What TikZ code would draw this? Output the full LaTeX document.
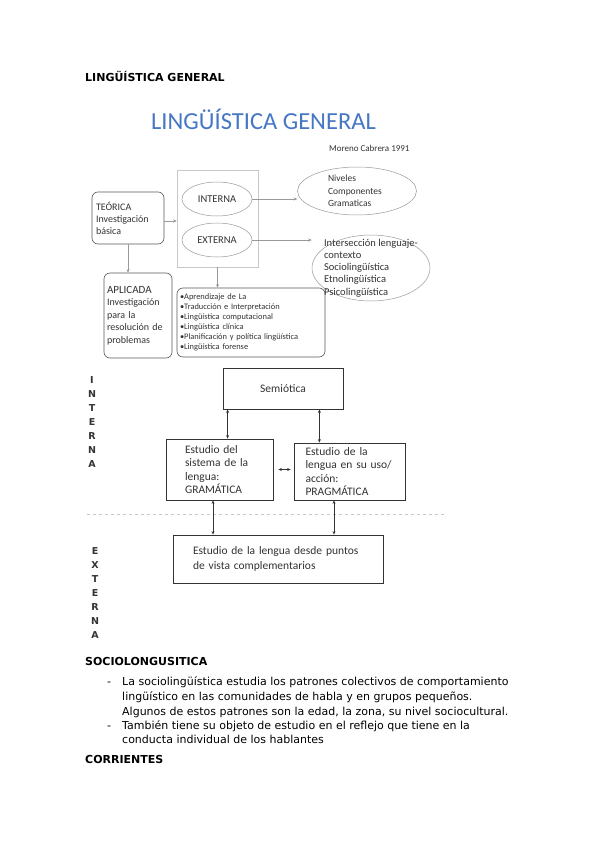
\documentclass[tikz,border=0pt]{standalone}
\usepackage{fontspec}
\setmainfont{DejaVu Sans}
\newfontfamily\carlito{Carlito}
\usepackage{xcolor}
\usetikzlibrary{positioning,arrows.meta,shapes.geometric}
\definecolor{blue500}{HTML}{4677C6}
\definecolor{gray800}{HTML}{333333}
\definecolor{gray600}{HTML}{595959}
\definecolor{gray400}{HTML}{999999}
\definecolor{gray200}{HTML}{C8C8C8}
\tikzset{
  every node/.style={inner sep=0pt, text=gray800},
  heading/.style={font=\fontsize{11}{13}\selectfont\bfseries, anchor=base west, text=black},
  bodyline/.style={font=\fontsize{11}{13}\selectfont, anchor=base west, text=black},
  imgtext/.style={font=\carlito\fontsize{10}{12}\selectfont, align=left},
  roundbox/.style={rectangle, rounded corners=6pt, draw=gray600, line width=0.6pt, imgtext},
  oval/.style={ellipse, draw=gray400, line width=0.5pt},
  frame/.style={rectangle, draw=gray200, line width=0.5pt},
  plainbox/.style={rectangle, draw=gray800, line width=0.8pt, align=left,
    font=\carlito\fontsize{11.5}{13.4}\selectfont},
  garrow/.style={-{Stealth[length=3.5pt,width=3pt]}, draw=gray400, line width=0.5pt},
  darrow/.style={{Stealth[length=3.5pt,width=3pt]}-{Stealth[length=3.5pt,width=3pt]},
    draw=gray800, line width=0.8pt},
  vletter/.style={font=\fontsize{9.5}{11}\selectfont\bfseries, anchor=base, text=gray800},
}

\begin{document}
\begin{tikzpicture}[x=1pt,y=-1pt]
  \fill[white] (0,0) rectangle (599,848);
  \useasboundingbox (0,0) rectangle (599,848);

  \node[heading] (head) at (85,82) {LINGÜÍSTICA GENERAL};
  \node[font=\carlito\fontsize{24.5}{28}\selectfont, text=blue500, anchor=base] (title) at (263.5,130) {LINGÜÍSTICA GENERAL};
  \node[font=\carlito\fontsize{9}{11}\selectfont, anchor=base west] (author) at (329,151) {Moreno Cabrera 1991};

  \node[roundbox, minimum width=72, minimum height=52, text width=64, yshift=-2pt] (teorica) at (128,216) {TEÓRICA\\Investigación\\básica};
  \node[frame, minimum width=81, minimum height=97] (cont) at (217.5,218.5) {};
  \node[oval, minimum width=70, minimum height=34, font=\carlito\fontsize{10.5}{12}\selectfont] (interna) at (217,199) {INTERNA};
  \node[oval, minimum width=70, minimum height=34, font=\carlito\fontsize{10.5}{12}\selectfont] (externa) at (217,240) {EXTERNA};
  \node[oval, minimum width=119, minimum height=48] (niveles) at (357,191) {};
  \node[imgtext, font=\carlito\fontsize{9.5}{12.5}\selectfont, xshift=-2pt] (nivtxt) at (niveles) {Niveles\\Componentes\\Gramaticas};
  \node[oval, minimum width=118, minimum height=66] (isec) at (371,268) {};
  \node[imgtext, font=\carlito\fontsize{10.5}{12.2}\selectfont] (isectxt) at (isec) {Intersección lenguaje-\\contexto\\Sociolingüística\\Etnolingüística\\Psicolingüística};
  \node[roundbox, minimum width=68, minimum height=85, text width=62, font=\carlito\fontsize{10}{12.5}\selectfont] (aplicada) at (138,315.5) {{\fontsize{11}{13}\selectfont APLICADA}\\Investigación\\para la\\resolución de\\problemas};
  \node[roundbox, minimum width=148, minimum height=69, text width=142, font=\carlito\fontsize{8.4}{10}\selectfont] (fields) at (251,322.5) {•Aprendizaje de La\\•Traducción e Interpretación\\•Lingüística computacional\\•Lingüística clínica\\•Planificación y política lingüística\\•Lingüística forense};

  \coordinate (tout) at ([yshift=-3pt]teorica.east);
  \draw[garrow] (tout) -- (tout -| cont.west);
  \draw[garrow] (teorica.south) -- (teorica.south |- aplicada.north);
  \draw[garrow] (cont.south) -- (cont.south |- fields.north);
  \draw[garrow] (interna.east) -- (interna.east -| niveles.west);
  \draw[garrow] (externa.east) -- (externa.east -| isec.west);

  \foreach \l [count=\i] in {I,N,T,E,R,N,A}
    \node[vletter] (int\i) at (92,369+14*\i) {\l};
  \foreach \l [count=\i] in {E,X,T,E,R,N,A}
    \node[vletter] (ext\i) at (95,540+14*\i) {\l};

  \node[plainbox, minimum width=120, minimum height=41, align=center] (semi) at (283,388.5) {Semiótica};
  \node[plainbox, minimum width=107, minimum height=61, text width=69] (gram) at (219.5,469.5) {Estudio del\\sistema de la\\lengua:\\GRAMÁTICA};
  \node[plainbox, minimum width=111, minimum height=57, text width=88] (prag) at (349.5,471.5) {Estudio de la\\lengua en su uso/\\acción:\\PRAGMÁTICA};
  \node[plainbox, minimum width=210, minimum height=48, text width=170, font=\carlito\fontsize{11.5}{14.5}\selectfont] (bottom) at (278,559) {Estudio de la lengua desde puntos\\de vista complementarios};

  \draw[dashed, gray200, line width=0.6pt] (87,514) -- (445,514);

  \coordinate (sl) at ([xshift=5pt]semi.south west);
  \draw[darrow] (sl) -- (sl |- gram.north);
  \coordinate (sr) at ([xshift=-24pt]semi.south east);
  \draw[darrow] (sr) -- (sr |- prag.north);
  \coordinate (gr) at ([xshift=5pt]gram.east);
  \coordinate (pl) at ([xshift=-3pt]prag.west);
  \draw[darrow, line width=0.6pt] (gr) -- (gr -| pl);
  \coordinate (gb) at ([xshift=-6.5pt]gram.south);
  \draw[darrow] (gb) -- (gb |- bottom.north);
  \coordinate (pb) at ([xshift=-15.5pt]prag.south);
  \draw[darrow] (pb) -- (pb |- bottom.north);

  \node[heading] (socio) at (85,665) {SOCIOLONGUSITICA};
  \node[bodyline] (dash1) at (107,685) {-};
  \node[bodyline] (line1) at (122,685) {La sociolingüística estudia los patrones colectivos de comportamiento};
  \node[bodyline] (line2) at (122,700) {lingüístico en las comunidades de habla y en grupos pequeños.};
  \node[bodyline] (line3) at (122,715) {Algunos de estos patrones son la edad, la zona, su nivel sociocultural.};
  \node[bodyline] (dash2) at (107,729) {-};
  \node[bodyline] (line4) at (122,729) {También tiene su objeto de estudio en el reflejo que tiene en la};
  \node[bodyline] (line5) at (122,743) {conducta individual de los hablantes};
  \node[heading] (corr) at (85,763) {CORRIENTES};
\end{tikzpicture}
\end{document}
